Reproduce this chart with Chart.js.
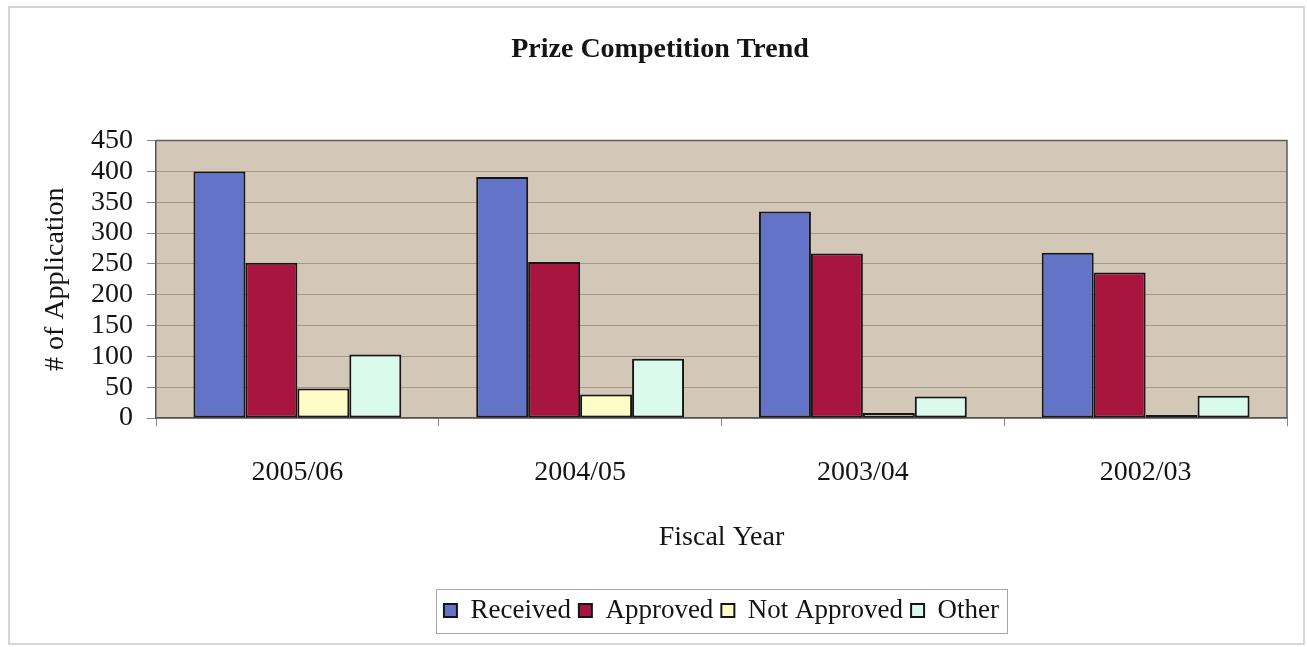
<!DOCTYPE html>
<html>
<head>
<meta charset="utf-8">
<title>Prize Competition Trend</title>
<style>
  html, body { margin: 0; padding: 0; background: #ffffff; }
  #wrap { width: 1307px; height: 647px; position: relative; }
</style>
<script src="https://cdn.jsdelivr.net/npm/chart.js@4.4.1/dist/chart.umd.min.js"></script>
</head>
<body>
<div id="wrap"><canvas id="chart"></canvas></div>
<script>
// Fiscal years and application counts per outcome
const categories  = ['2005/06', '2004/05', '2003/04', '2002/03'];
const received    = [400, 391, 335, 268];
const approved    = [252, 253, 267, 236];
const notApproved = [48, 38, 8, 5];
const other       = [103, 96, 35, 36];
const seriesNames = ['Received', 'Approved', 'Not Approved', 'Other'];
const yMin = 0, yMax = 450, yStep = 50;

const SERIF = '"Liberation Serif", "Times New Roman", serif';
const INK = '#141414';

// Page frame, plot background, plot border and legend frame
const framePlugin = {
  id: 'frame',
  beforeDraw(chart) {
    const { ctx, chartArea: a } = chart;
    ctx.save();
    ctx.fillStyle = '#ffffff';
    ctx.fillRect(0, 0, chart.width, chart.height);
    ctx.strokeStyle = '#c9c9c9';
    ctx.lineWidth = 1.5;
    ctx.strokeRect(9, 7, chart.width - 12, chart.height - 10);
    ctx.fillStyle = '#d3c7b8';
    ctx.fillRect(a.left, a.top, a.right - a.left, a.bottom - a.top);
    ctx.restore();
  },
  afterDraw(chart) {
    const { ctx, chartArea: a } = chart;
    ctx.save();
    ctx.strokeStyle = '#5e5e5e';
    ctx.lineWidth = 1.5;
    ctx.beginPath();
    ctx.moveTo(a.left, a.top);
    ctx.lineTo(a.right, a.top);
    ctx.lineTo(a.right, a.bottom);
    ctx.stroke();
    const boxes = chart.legend && chart.legend.legendHitBoxes;
    if (boxes && boxes.length) {
      const l = Math.min(...boxes.map(b => b.left)) - 8;
      const r = Math.max(...boxes.map(b => b.left + b.width)) + 8;
      const cy = boxes[0].top + boxes[0].height / 2;
      ctx.strokeStyle = '#a8a8a8';
      ctx.lineWidth = 1;
      ctx.strokeRect(Math.round(l) + 0.5, Math.round(cy - 22) + 0.5, Math.round(r - l), 44);
    }
    ctx.restore();
  }
};

const barStyle = { borderColor: '#161616', borderWidth: 2, borderSkipped: false,
                   categoryPercentage: 0.735, barPercentage: 1.0 };

new Chart(document.getElementById('chart'), {
  type: 'bar',
  data: {
    labels: categories,
    datasets: [
      { label: seriesNames[0], data: received,    backgroundColor: '#6373c8', ...barStyle },
      { label: seriesNames[1], data: approved,    backgroundColor: '#a8153f', ...barStyle },
      { label: seriesNames[2], data: notApproved, backgroundColor: '#fffcc8', ...barStyle },
      { label: seriesNames[3], data: other,       backgroundColor: '#dbfaee', ...barStyle }
    ]
  },
  options: {
    responsive: true,
    maintainAspectRatio: false,
    animation: false,
    layout: { padding: { left: 33, right: 20, top: 0, bottom: 13 } },
    plugins: {
      tooltip: { enabled: false },
      title: {
        display: true,
        text: 'Prize Competition Trend',
        color: INK,
        font: { family: SERIF, size: 28, weight: 'bold', lineHeight: 1.2 },
        padding: { top: 33, bottom: 74 }
      },
      legend: {
        display: true,
        position: 'bottom',
        fullSize: false,
        labels: {
          color: INK,
          font: { family: SERIF, size: 27 },
          boxWidth: 13,
          boxHeight: 13,
          padding: 8
        }
      }
    },
    scales: {
      x: {
        offset: true,
        grid: {
          offset: true,
          drawOnChartArea: false,
          drawTicks: true,
          tickLength: 8,
          tickColor: '#8a8a8a',
          color: '#8a8a8a'
        },
        border: { display: true, color: '#555555', width: 1.5 },
        ticks: {
          color: INK,
          font: { family: SERIF, size: 28 },
          padding: 30,
          maxRotation: 0
        },
        title: {
          display: true,
          text: 'Fiscal Year',
          color: INK,
          font: { family: SERIF, size: 28 },
          padding: { top: 0, bottom: 35 }
        },
        afterFit(scale) { scale.height = 171; }
      },
      y: {
        min: yMin,
        max: yMax,
        ticks: {
          stepSize: yStep,
          autoSkip: false,
          color: INK,
          font: { family: SERIF, size: 28, lineHeight: 1.0 },
          padding: 14
        },
        grid: {
          color: '#a3978a',
          lineWidth: 1,
          tickLength: 9,
          tickColor: '#8a8a8a',
          drawTicks: true
        },
        border: { display: true, color: '#555555', width: 1.5 },
        title: {
          display: true,
          text: '# of Application',
          color: INK,
          font: { family: SERIF, size: 28 },
          padding: { top: 6, bottom: 0 }
        },
        afterFit(scale) { scale.width = 123; }
      }
    }
  },
  plugins: [framePlugin]
});
</script>
</body>
</html>
